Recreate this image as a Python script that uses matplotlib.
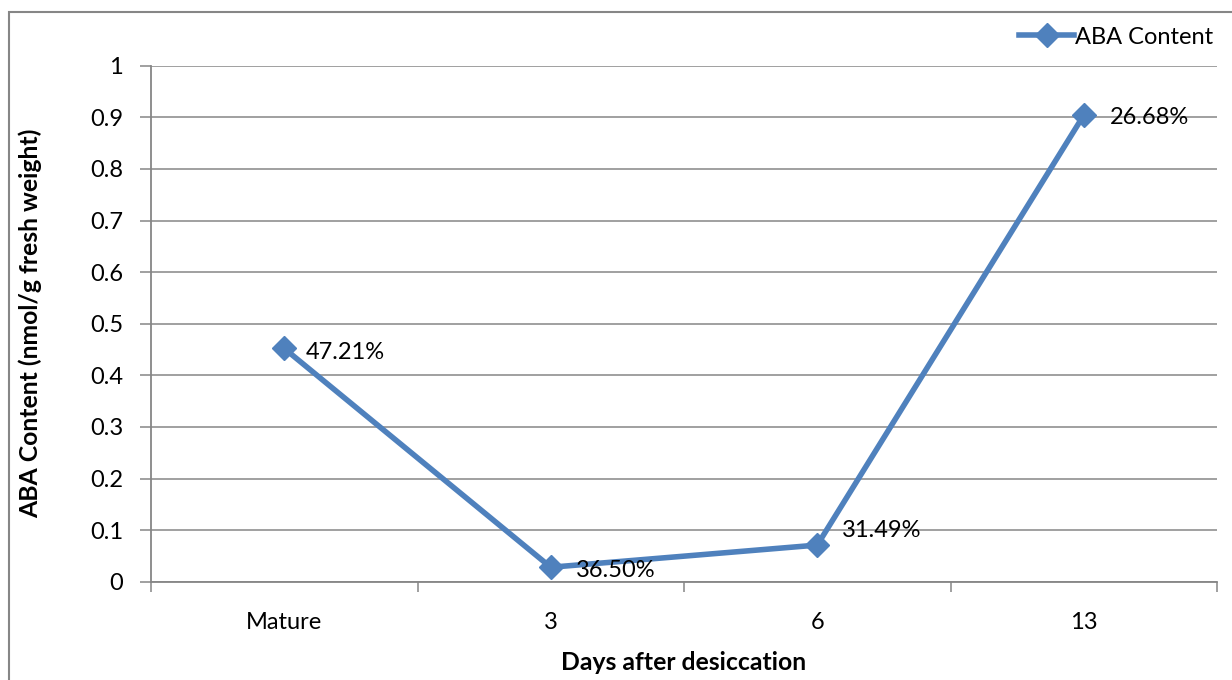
import matplotlib
matplotlib.use("Agg")
import matplotlib.pyplot as plt
from matplotlib.patches import Rectangle

categories = ["Mature", "3", "6", "13"]
aba_content = [0.452, 0.028, 0.071, 0.904]
point_labels = ["47.21%", "36.50%", "31.49%", "26.68%"]
label_offsets = [(21, -4), (25, -3), (25, 15), (26, -2)]
y_ticks = [0, 0.1, 0.2, 0.3, 0.4, 0.5, 0.6, 0.7, 0.8, 0.9, 1]

plt.rcParams["font.family"] = ["Lato", "DejaVu Sans"]

W, H = 1232, 680
FS = 17
FS_TITLE = 17.8
fig = plt.figure(figsize=(W / 100, H / 100), dpi=100)
fig.patch.set_facecolor("white")

# outer chart border
fig.patches.append(Rectangle((9 / W, -0.1), 1.2, 1 - 12 / H + 0.1,
                             transform=fig.transFigure, fill=False,
                             edgecolor="#868686", linewidth=1.5))

left, right, top, bottom = 151, 1217, 65.7, 581.7
ax = fig.add_axes([left / W, 1 - bottom / H, (right - left) / W, (bottom - top) / H])

grid_color = "#868686"
line_color = "#4F81BD"

x = list(range(len(categories)))
ax.set_xlim(-0.5, len(categories) - 0.5)
ax.set_ylim(0, 1)
ax.set_yticks(y_ticks)
ax.set_yticklabels([f"{v:g}" for v in y_ticks])
ax.yaxis.grid(True, color=grid_color, linewidth=1.1)
ax.set_axisbelow(True)

ax.set_xticks(x)
ax.set_xticklabels(categories)
ax.set_xticks([i - 0.5 for i in range(len(categories) + 1)], minor=True)
ax.tick_params(axis="x", which="major", length=0, pad=22, labelsize=FS)
ax.tick_params(axis="x", which="minor", length=7, width=1.1, color=grid_color, direction="out")
ax.tick_params(axis="y", length=8, width=1.1, color=grid_color, direction="out",
               pad=12, labelsize=FS)

for s in ["top", "right"]:
    ax.spines[s].set_visible(False)
for s in ["left", "bottom"]:
    ax.spines[s].set_color(grid_color)
    ax.spines[s].set_linewidth(1.3)

ax.plot(x, aba_content, color=line_color, linewidth=4, marker="D",
        markersize=12, label="ABA Content", clip_on=False, zorder=3)

for xi, yi, txt, off in zip(x, aba_content, point_labels, label_offsets):
    ax.annotate(txt, (xi, yi), xytext=off, textcoords="offset pixels",
                ha="left", va="center", fontsize=FS, color="black", zorder=4)

ax.set_xlabel("Days after desiccation", fontsize=FS_TITLE, fontweight="bold")
ax.set_ylabel("ABA Content (nmol/g fresh weight)", fontsize=FS_TITLE, fontweight="bold")
ax.xaxis.set_label_coords(0.5, (bottom - 651) / (bottom - top))
ax.yaxis.set_label_coords((42 - left) / (right - left), 0.5)

leg = fig.legend(loc="center right", bbox_to_anchor=(1213 / W, 1 - 37 / H),
                 frameon=False, fontsize=FS, handlelength=2.3,
                 handletextpad=0.05, borderpad=0, borderaxespad=0)

fig.savefig("out.png", dpi=100)
